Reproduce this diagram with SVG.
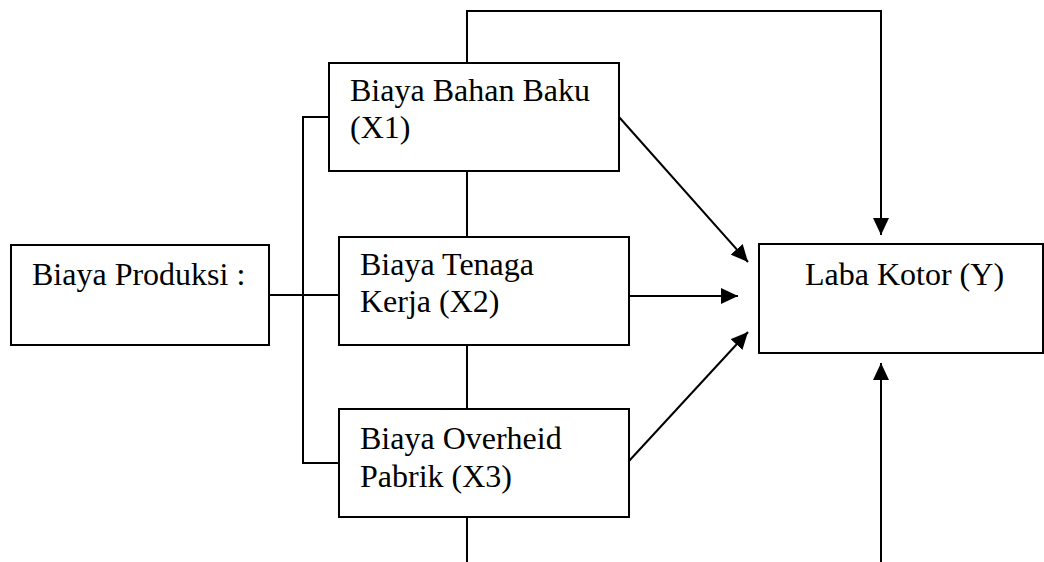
<svg xmlns="http://www.w3.org/2000/svg" width="1044" height="562" viewBox="0 0 1044 562">
<style>
.box{fill:#fff;stroke:#000;stroke-width:2}
.ln{fill:none;stroke:#000;stroke-width:2}
text{font-family:"Liberation Serif","Times New Roman",serif;font-size:32px;fill:#000}
</style>
<defs>
<marker id="ah" markerUnits="userSpaceOnUse" markerWidth="18" markerHeight="16" refX="17" refY="8" orient="auto">
<path d="M0,0 L17,8 L0,16 Z" fill="#000"/>
</marker>
</defs>
<rect width="1044" height="562" fill="#fff"/>
<g id="connectors">
<polyline class="ln" points="467,63 467,11 881,11 881,235" marker-end="url(#ah)"/>
<line class="ln" x1="467" y1="171" x2="467" y2="237"/>
<line class="ln" x1="467" y1="345" x2="467" y2="409"/>
<line class="ln" x1="467" y1="517" x2="467" y2="562"/>
<polyline class="ln" points="329,117 303,117 303,463 339,463"/>
<line class="ln" x1="269" y1="295" x2="339" y2="295"/>
<line class="ln" x1="629" y1="296" x2="738" y2="296" marker-end="url(#ah)"/>
<line class="ln" x1="619" y1="117" x2="748" y2="262" marker-end="url(#ah)"/>
<line class="ln" x1="629" y1="461" x2="748" y2="332" marker-end="url(#ah)"/>
<line class="ln" x1="881" y1="562" x2="881" y2="363" marker-end="url(#ah)"/>
</g>
<g id="produksi">
<rect class="box" x="11" y="245" width="258" height="100"/>
<text x="32" y="285">Biaya Produksi :</text>
</g>
<g id="x1">
<rect class="box" x="329" y="63" width="290" height="108"/>
<text x="350" y="101">Biaya Bahan Baku</text>
<text x="350" y="138">(X1)</text>
</g>
<g id="x2">
<rect class="box" x="339" y="237" width="290" height="108"/>
<text x="360" y="275">Biaya Tenaga</text>
<text x="360" y="312">Kerja (X2)</text>
</g>
<g id="x3">
<rect class="box" x="339" y="409" width="290" height="108"/>
<text x="360" y="449">Biaya Overheid</text>
<text x="360" y="487">Pabrik (X3)</text>
</g>
<g id="laba">
<rect class="box" x="759" y="244" width="284" height="109"/>
<text x="805" y="285">Laba Kotor (Y)</text>
</g>
</svg>
